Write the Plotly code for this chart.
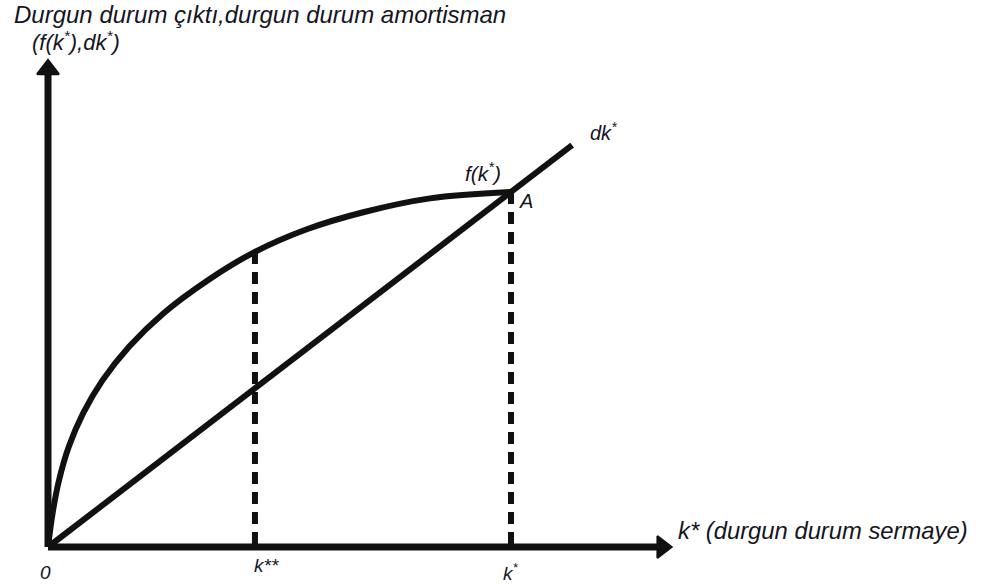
import plotly.graph_objects as go

# Steady-state output curve f(k*) sampled along k*
k_grid = [0, 0.10, 0.24, 0.45, 0.76, 1.18, 1.75, 2.49, 3.47, 4.45, 5.59, 6.81, 8.25, 10.0]
f_vals = [0, 0.96, 1.89, 2.83, 3.77, 4.70, 5.64, 6.58, 7.53, 8.30, 8.95, 9.43, 9.82, 10.0]

# Steady-state depreciation line d*k*
dk_k = [0, 11.32]
dk_vals = [0, 11.32]

# Marked capital levels
k_star, f_star = 10.0, 10.0      # point A
k_2star, f_2star = 4.47, 8.31

# Axis extents (arrow tips)
x_axis_end = 13.47
y_axis_end = 13.72

# pixel scale of one unit on each axis
W, H = 984, 588
SX, SY = 46.3, 35.5
X0, Y0 = 48, 547
x_range = [-X0 / SX, (W - X0) / SX]
y_range = [-(H - Y0) / SY, Y0 / SY]

INK = "#111111"
FONT = dict(family="Liberation Sans, Arial, sans-serif", color="#15151f", style="italic")

fig = go.Figure()

# axes with arrowheads
head_r = 9.5
fig.add_trace(go.Scatter(x=[0, x_axis_end - head_r / SX], y=[0, 0], mode="lines",
                         line=dict(color=INK, width=7), hoverinfo="skip"))
fig.add_trace(go.Scatter(x=[0, 0], y=[0, y_axis_end - head_r / SY], mode="lines",
                         line=dict(color=INK, width=7), hoverinfo="skip"))
fig.add_trace(go.Scatter(x=[x_axis_end - head_r / SX], y=[0], mode="markers",
                         marker=dict(symbol="triangle-right", size=2 * head_r, color=INK,
                                     line=dict(color=INK, width=2)), hoverinfo="skip"))
fig.add_trace(go.Scatter(x=[0], y=[y_axis_end - head_r / SY], mode="markers",
                         marker=dict(symbol="triangle-up", size=2 * head_r, color=INK,
                                     line=dict(color=INK, width=2)), hoverinfo="skip"))

# dashed drop lines
fig.add_trace(go.Scatter(x=[k_2star, k_2star], y=[f_2star, 0], mode="lines",
                         line=dict(color=INK, width=6, dash="12px,8px"), hoverinfo="skip"))
fig.add_trace(go.Scatter(x=[k_star, k_star], y=[f_star, 0], mode="lines",
                         line=dict(color=INK, width=6, dash="12px,8px"), hoverinfo="skip"))

# f(k*) curve and dk* line
fig.add_trace(go.Scatter(x=k_grid, y=f_vals, mode="lines",
                         line=dict(color=INK, width=6, shape="spline", smoothing=1.0),
                         hoverinfo="skip"))
fig.add_trace(go.Scatter(x=dk_k, y=dk_vals, mode="lines",
                         line=dict(color=INK, width=6), hoverinfo="skip"))


def note(text, x, y, size, xref="paper", yref="paper", xanchor="left", yanchor="middle",
         xshift=0, yshift=0):
    fig.add_annotation(text=text, x=x, y=y, xref=xref, yref=yref, showarrow=False,
                       xanchor=xanchor, yanchor=yanchor, xshift=xshift, yshift=yshift,
                       font=dict(size=size, **FONT))


note("Durgun durum çıktı,durgun durum amortisman", 12 / W, 1 - 15 / H, 24)
note("(f(k<sup>*</sup>),dk<sup>*</sup>)", 30 / W, 1 - 41 / H, 22)
note("dk<sup>*</sup>", dk_k[1], dk_vals[1], 20, xref="x", yref="y", xshift=16, yshift=14)
note("f(k<sup>*</sup>)", k_star, f_star, 21, xref="x", yref="y", xanchor="right", yshift=20, xshift=-8)
note("A", k_star, f_star, 20, xref="x", yref="y", xshift=6, yshift=-9)
note("k* (durgun durum sermaye)", x_axis_end, 0, 23.8, xref="x", yref="y", xshift=4, yshift=17)
note("0", 0, 0, 19, xref="x", yref="y", xanchor="center", yshift=-25, xshift=-3)
note("k**", k_2star, 0, 19, xref="x", yref="y", xanchor="center", yshift=-18, xshift=12)
note("k<sup>*</sup>", k_star, 0, 19, xref="x", yref="y", xanchor="center", yshift=-25)

fig.update_layout(
    width=W, height=H,
    margin=dict(l=0, r=0, t=0, b=0),
    paper_bgcolor="white", plot_bgcolor="white",
    showlegend=False,
    xaxis=dict(range=x_range, visible=False, fixedrange=True),
    yaxis=dict(range=y_range, visible=False, fixedrange=True),
)

fig.write_html("out.html")
